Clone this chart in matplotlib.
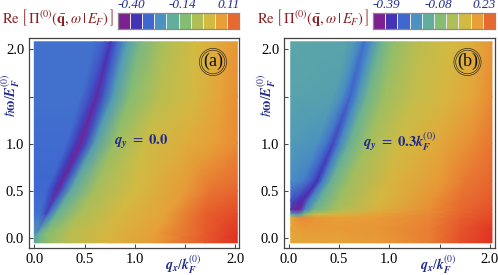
import numpy as np
import matplotlib
matplotlib.use("Agg")
import matplotlib.pyplot as plt
from matplotlib.colors import LinearSegmentedColormap
from matplotlib.patches import Circle

plt.rcParams["font.family"] = ["Liberation Serif", "DejaVu Serif"]
plt.rcParams["mathtext.fontset"] = "stix"

W, H = 498, 275

# colour levels: 0 = first legend square, 9 = last legend square
colors = ["#7d2090", "#4433b5", "#3f68d0", "#4b93c0", "#62ae9e", "#85bd72",
          "#aebf58", "#d3bb42", "#e8a038", "#e86a30", "#e23a25", "#dd1f1f"]
legend_levels = np.arange(10)

# each row: q stops, then the level seen at each stop
omega_a = [2.08, 1.5, 1.0, 0.5, 0.25, 0.05, -0.05]
q_a = [
    [0, .60, .70, .76, .82, .92, 1.05, 1.3, 1.6, 1.85, 2.02],
    [0, .46, .56, .62, .68, .78, .95, 1.25, 1.6, 1.85, 2.02],
    [0, .32, .41, .46, .51, .60, .80, 1.1, 1.5, 1.8, 2.02],
    [0, .12, .19, .23, .27, .36, .60, 1.0, 1.5, 1.75, 2.02],
    [0, .05, .09, .11, .14, .22, .45, .85, 1.3, 1.7, 2.02],
    [0, .01, .02, .03, .05, .12, .35, .75, 1.2, 1.7, 2.02],
    [0, .01, .02, .03, .05, .12, .35, .75, 1.2, 1.7, 2.02],
]
level_a = [
    [2.2, 2.2, 1.8, 1.1, 1.9, 3.4, 4.6, 6.0, 7.0, 7.7, 8.2],
    [2.2, 2.2, 1.5, 0.6, 1.6, 3.3, 5.0, 6.3, 7.1, 7.9, 8.3],
    [2.1, 2.1, 1.2, 0.2, 1.4, 3.4, 5.5, 6.8, 7.5, 8.0, 8.4],
    [2.0, 2.0, 1.2, 0.4, 1.6, 3.8, 5.8, 7.0, 8.1, 8.8, 9.1],
    [2.2, 2.2, 1.8, 1.3, 2.2, 4.2, 5.9, 7.1, 7.9, 9.2, 9.7],
    [3.2, 3.2, 3.4, 3.7, 4.2, 5.0, 6.3, 7.2, 8.0, 9.3, 10.2],
    [4.2, 4.2, 4.3, 4.4, 4.6, 5.2, 6.4, 7.3, 8.1, 9.4, 10.3],
]

omega_b = [2.08, 1.5, 1.0, 0.6, 0.4, 0.3, 0.25, 0.21, 0.1, -0.05]
q_b = [
    [.02, .58, .68, .75, .82, .92, 1.05, 1.3, 1.6, 1.85, 2.02],
    [.02, .44, .54, .61, .68, .78, .95, 1.25, 1.6, 1.85, 2.02],
    [.02, .28, .38, .44, .50, .60, .80, 1.1, 1.5, 1.8, 2.02],
    [.02, .14, .23, .28, .33, .42, .60, 1.0, 1.5, 1.75, 2.02],
    [.02, .06, .11, .15, .20, .30, .50, .9, 1.4, 1.7, 2.02],
    [.02, .05, .08, .11, .16, .25, .50, .9, 1.4, 1.7, 2.02],
    [.02, .05, .08, .11, .16, .25, .50, .9, 1.4, 1.7, 2.02],
    [.02, .05, .08, .11, .16, .25, .50, .9, 1.4, 1.7, 2.02],
    [.02, .05, .08, .11, .16, .25, .50, .9, 1.4, 1.7, 2.02],
    [.02, .05, .08, .11, .16, .25, .50, .9, 1.4, 1.7, 2.02],
]
level_b = [
    [3.7, 3.6, 3.0, 2.2, 3.0, 4.3, 5.3, 6.4, 7.0, 7.6, 8.2],
    [3.6, 3.5, 2.8, 1.9, 3.0, 4.4, 5.6, 6.6, 7.3, 7.9, 8.4],
    [3.3, 3.0, 2.2, 1.4, 2.6, 4.2, 5.8, 6.9, 7.7, 8.3, 8.8],
    [2.9, 2.5, 1.7, 1.0, 2.4, 4.2, 5.6, 7.2, 8.1, 8.7, 9.1],
    [1.6, 1.4, 0.9, 0.7, 2.4, 4.0, 5.6, 7.1, 8.2, 8.9, 9.3],
    [0.9, 0.5, 0.2, 0.4, 2.6, 4.4, 6.0, 7.4, 8.3, 9.0, 9.5],
    [4.0, 3.5, 3.2, 3.5, 5.0, 6.6, 7.3, 7.9, 8.4, 9.1, 9.6],
    [7.6, 7.9, 8.2, 8.3, 8.4, 8.2, 8.0, 8.1, 8.5, 9.2, 9.7],
    [7.9, 8.0, 8.0, 8.0, 8.1, 8.1, 8.1, 8.2, 8.6, 9.4, 10.1],
    [7.6, 7.7, 7.7, 7.7, 7.8, 7.8, 7.9, 8.1, 8.6, 9.5, 10.3],
]

ticks = [0.0, 0.5, 1.0, 1.5, 2.0]
labels_a = ["-0.40", "-0.14", "0.11"]
labels_b = ["-0.39", "-0.08", "0.23"]

cmap = LinearSegmentedColormap.from_list("spec", colors, N=256)
blue = "#1f2a8c"
dark_red = "#8c1f24"
frame_col = "#444444"


def px_axes(left, top, right, bottom):
    return fig.add_axes([left / W, 1 - bottom / H, (right - left) / W, (bottom - top) / H])


def heat_panel(box, xlim, ylim, omega, q, level):
    ax = px_axes(*box)
    Q = np.array(q)
    O = np.repeat(np.array(omega)[:, None], Q.shape[1], axis=1)
    ax.pcolormesh(Q, O, np.array(level), cmap=cmap, vmin=0, vmax=11, shading="gouraud", rasterized=True)
    ax.set_xlim(*xlim)
    ax.set_ylim(*ylim)
    ax.set_xticks(ticks, ["0.0", "0.5", "1.0", "", "2.0"])
    ax.set_yticks(ticks, ["0.0", "0.5", "1.0", "", "2.0"])
    ax.tick_params(direction="in", length=3, width=0.7, color=frame_col, labelsize=10.5, pad=3.5)
    for s in ax.spines.values():
        s.set_linewidth(0.9)
        s.set_color(frame_col)
    return ax


def legend_bar(box, labels, xs):
    ax = px_axes(*box)
    ax.pcolormesh(legend_levels[None, :], cmap=cmap, vmin=0, vmax=11, edgecolors="#e8e8e8", linewidth=0.5)
    ax.set_xticks([])
    ax.set_yticks([])
    for s in ax.spines.values():
        s.set_linewidth(0.9)
        s.set_color("#8a8a8a")
    for x, t in zip(xs, labels):
        fig.text(x / W, 1 - 5.5 / H, t, color=blue, style="italic", fontsize=9.5, ha="center", va="center")


def badge(x, y, t):
    # transform=None is in pixels, dpi stays 100 when saving
    for r in (13.6, 11.8):
        fig.add_artist(Circle((x, H - y), r, transform=None, fill=False, ec="#222222", lw=0.45))
    fig.text(x / W, 1 - (y - 0.5) / H, t, fontsize=13, ha="center", va="center", color="#111111")


fig = plt.figure(figsize=(W / 100, H / 100), dpi=100)

heat_panel((29, 38, 239, 248), (-0.053, 2.037), (-0.105, 2.12), omega_a, q_a, level_a)
heat_panel((284, 38, 495, 248), (-0.047, 2.05), (-0.105, 2.12), omega_b, q_b, level_b)

legend_bar((118, 13, 239, 29), labels_a, [131.5, 182, 229])
legend_bar((373, 13, 495, 29), labels_b, [386, 438, 484])

re_label = r"$\mathrm{Re}\ \left[\,\Pi^{(0)}(\bar{\mathbf{q}},\omega\,|\,E_F)\,\right]$"
fig.text(58 / W, 1 - 18 / H, re_label, color=dark_red, fontsize=10.5, ha="center", va="center")
fig.text(313 / W, 1 - 18 / H, re_label, color=dark_red, fontsize=10.5, ha="center", va="center")

ylab = r"$\hbar\mathbf{\omega}/\mathbfit{E}_{\mathbfit{F}}^{(0)}$"
xlab = r"$\mathbfit{q}_{\mathbfit{x}}/\mathbfit{k}_{\mathbfit{F}}^{(0)}$"
fig.text(11 / W, 1 - 95 / H, ylab, color=blue, fontsize=10, rotation=90, ha="center", va="center")
fig.text(267 / W, 1 - 95 / H, ylab, color=blue, fontsize=10, rotation=90, ha="center", va="center")
fig.text(183 / W, 1 - 265 / H, xlab, color=blue, fontsize=10, ha="center", va="center")
fig.text(438 / W, 1 - 265 / H, xlab, color=blue, fontsize=10, ha="center", va="center")

fig.text(141 / W, 1 - 142 / H, r"$\mathbfit{q}_{\mathbfit{y}}\ =\ \mathbf{0.0}$", color=blue, fontsize=10.5, ha="center", va="center")
fig.text(400 / W, 1 - 142 / H, r"$\mathbfit{q}_{\mathbfit{y}}\ =\ \mathbf{0.3}\mathbfit{k}_{\mathbfit{F}}^{(0)}$", color=blue, fontsize=10.5, ha="center", va="center")

badge(213, 62, "(a)")
badge(467.5, 62, "(b)")

fig.savefig("out.png", dpi=100)
